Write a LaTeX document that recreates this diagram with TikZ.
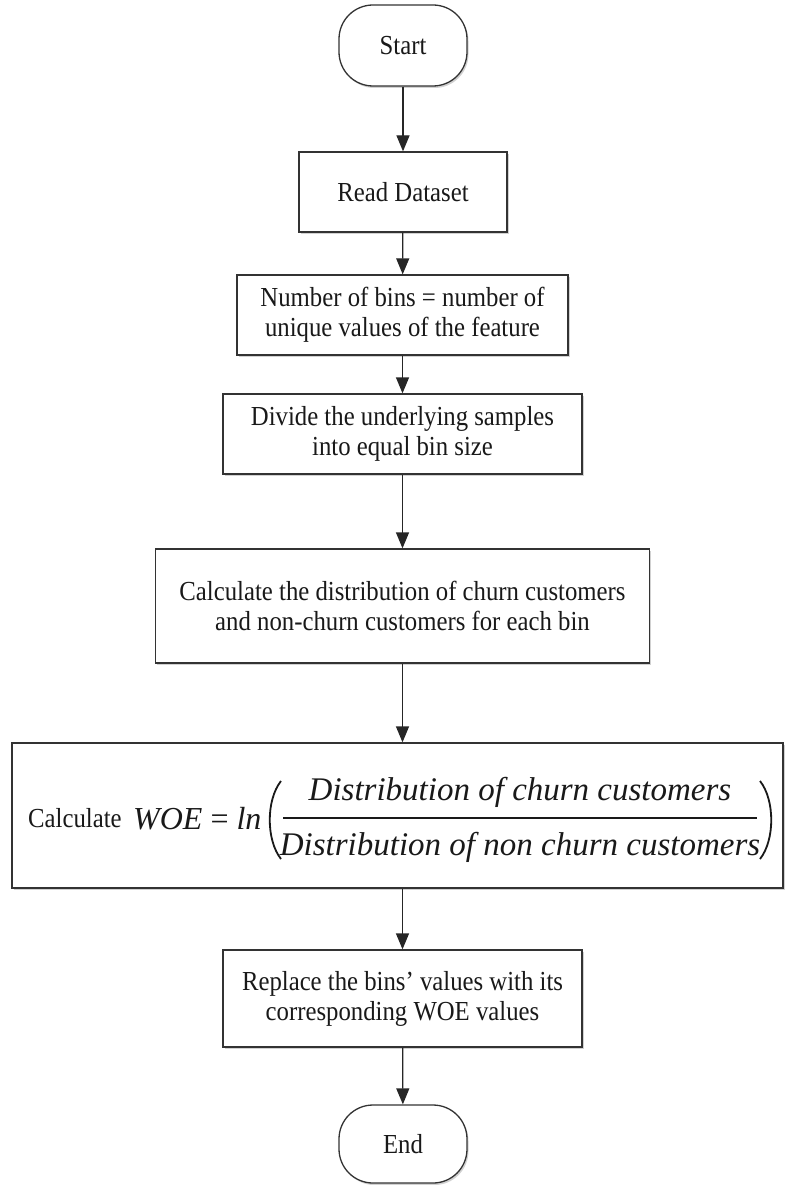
\documentclass[tikz,border=0pt]{standalone}
\usepackage{fontspec}
\setmainfont{Liberation Serif}[FakeStretch=0.9]
\newfontfamily\mathserif{Liberation Serif}
\usetikzlibrary{arrows.meta,shadows}
\tikzset{
  basebox/.style={draw=black!80, line width=1.3pt, fill=white, text=black!90,
    font=\fontsize{27.5}{30}\selectfont, align=center, inner sep=0pt,
    drop shadow={shadow xshift=1.5pt, shadow yshift=-2pt, opacity=0.3, fill=black!60}},
  procbox/.style={basebox, rectangle},
  termbox/.style={basebox, rectangle, rounded corners=34pt},
  flow/.style={draw=black!85, line width=1.3pt, -{Triangle[length=16pt,width=13pt]}},
  plaintext/.style={inner sep=0pt, text=black!90, font=\fontsize{27.5}{30}\selectfont},
  mathtext/.style={inner sep=0pt, text=black!90, font=\mathserif\itshape\fontsize{33}{36}\selectfont},
  parenline/.style={draw=black!90, line width=1.8pt},
}
\begin{document}
\begin{tikzpicture}[x=1pt,y=-1pt]
\useasboundingbox (0,0) rectangle (784,1185);

\node[termbox, minimum width=128pt, minimum height=81pt] (start) at (403,45.5) {Start};
\node[procbox, minimum width=208pt, minimum height=80pt] (read) at (403,192) {Read Dataset};
\node[procbox, minimum width=331pt, minimum height=80pt] (bins) at (402.5,315) {Number of bins = number of\\unique values of the feature};
\node[procbox, minimum width=359pt, minimum height=80pt] (divide) at (402.5,434) {Divide the underlying samples\\into equal bin size};
\node[procbox, minimum width=494pt, minimum height=114pt] (distr) at (402.5,606) {Calculate the distribution of churn customers\\and non-churn customers for each bin};
\node[procbox, minimum width=771pt, minimum height=145pt] (woe) at (397.5,815.5) {};
\node[procbox, minimum width=359pt, minimum height=97pt] (repl) at (402.5,998.5) {Replace the bins’ values with its\\corresponding WOE values};
\node[termbox, minimum width=128pt, minimum height=78pt] (end) at (403,1144) {End};

% formula inside the WOE box
\node[plaintext, anchor=base west] (calc) at (28,827) {Calculate};
\node[mathtext, anchor=base west, font=\mathserif\itshape\fontsize{32}{34}\selectfont] (woeeq) at (133,829) {WOE {\upshape =} ln};
\node[mathtext, anchor=base] (num) at (520,800) {Distribution of churn customers};
\node[mathtext, anchor=base] (den) at (520,855) {Distribution of non churn customers};
\coordinate (barL) at (283,818);
\coordinate (barR) at (757,818);
\draw[line width=2pt, black!90] (barL) -- (barR);
\draw[parenline] (281,781) .. controls (266,800) and (266,840) .. (281,859);
\draw[parenline] (760,781) .. controls (775,800) and (775,840) .. (760,859);

% connectors
\draw[flow] (start) -- (read);
\draw[flow] (read) -- (bins);
\draw[flow] (bins) -- (divide);
\draw[flow] (divide) -- (distr);
\draw[flow] (distr.south) -- (distr.south |- woe.north);
\draw[flow] (repl.north |- woe.south) -- (repl.north);
\draw[flow] (repl) -- (end);
\end{tikzpicture}
\end{document}
